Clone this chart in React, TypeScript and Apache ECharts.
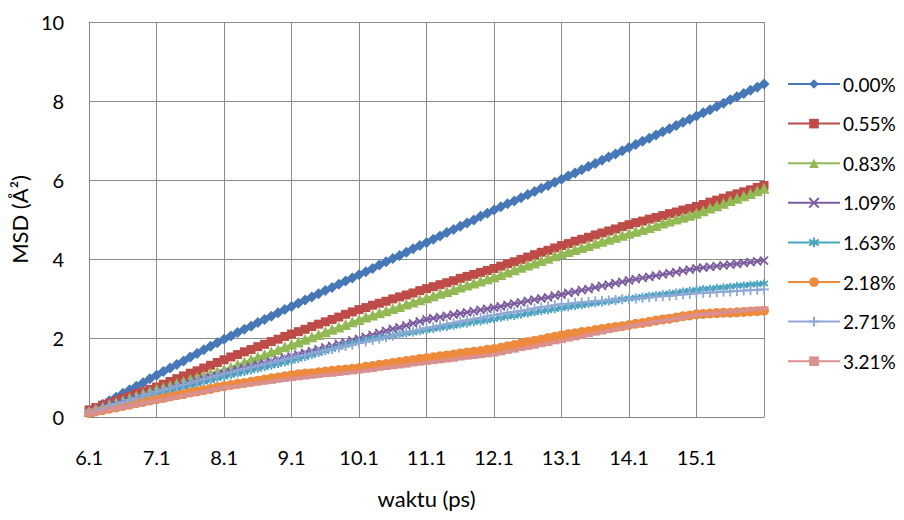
import React, { useEffect, useRef } from "react";
import * as echarts from "echarts";

// waktu (ps) categories: 6.1 ... 16.1 in steps of 0.1
const times: string[] = Array.from({ length: 101 }, (_, i) => (6.1 + i * 0.1).toFixed(1));

const s000 = [
  0.13, 0.22, 0.32, 0.41, 0.50, 0.60, 0.69, 0.78, 0.87, 0.97,
  1.06, 1.15, 1.24, 1.33, 1.42, 1.52, 1.61, 1.70, 1.79, 1.88,
  1.97, 2.05, 2.14, 2.22, 2.30, 2.39, 2.47, 2.55, 2.64, 2.72,
  2.80, 2.88, 2.96, 3.04, 3.12, 3.20, 3.28, 3.36, 3.44, 3.52,
  3.60, 3.68, 3.76, 3.85, 3.93, 4.01, 4.09, 4.17, 4.26, 4.34,
  4.42, 4.50, 4.58, 4.67, 4.75, 4.83, 4.91, 4.99, 5.08, 5.16,
  5.24, 5.32, 5.40, 5.47, 5.55, 5.63, 5.71, 5.79, 5.86, 5.94,
  6.02, 6.10, 6.18, 6.26, 6.34, 6.42, 6.50, 6.58, 6.66, 6.74,
  6.82, 6.90, 6.98, 7.06, 7.14, 7.22, 7.30, 7.38, 7.46, 7.54,
  7.62, 7.70, 7.78, 7.86, 7.94, 8.03, 8.11, 8.19, 8.27, 8.35,
  8.43,
];
const s055 = [
  0.18, 0.24, 0.30, 0.35, 0.41, 0.47, 0.53, 0.59, 0.64, 0.70,
  0.76, 0.83, 0.90, 0.97, 1.04, 1.11, 1.17, 1.24, 1.31, 1.38,
  1.45, 1.52, 1.58, 1.65, 1.71, 1.78, 1.84, 1.91, 1.97, 2.04,
  2.10, 2.16, 2.22, 2.29, 2.35, 2.41, 2.47, 2.53, 2.60, 2.66,
  2.72, 2.77, 2.83, 2.88, 2.93, 2.99, 3.04, 3.09, 3.14, 3.20,
  3.25, 3.30, 3.35, 3.40, 3.45, 3.51, 3.56, 3.61, 3.66, 3.71,
  3.76, 3.82, 3.88, 3.93, 3.99, 4.05, 4.11, 4.17, 4.22, 4.28,
  4.34, 4.39, 4.45, 4.50, 4.55, 4.61, 4.66, 4.71, 4.76, 4.82,
  4.87, 4.92, 4.96, 5.01, 5.05, 5.10, 5.15, 5.19, 5.24, 5.28,
  5.33, 5.38, 5.44, 5.49, 5.54, 5.60, 5.65, 5.70, 5.75, 5.81,
  5.86,
];
const s083 = [
  0.14, 0.20, 0.25, 0.31, 0.36, 0.42, 0.48, 0.53, 0.59, 0.64,
  0.70, 0.75, 0.80, 0.85, 0.90, 0.95, 1.00, 1.05, 1.10, 1.15,
  1.20, 1.26, 1.33, 1.39, 1.46, 1.52, 1.58, 1.65, 1.71, 1.78,
  1.84, 1.90, 1.97, 2.03, 2.09, 2.16, 2.22, 2.28, 2.34, 2.41,
  2.47, 2.53, 2.58, 2.64, 2.69, 2.75, 2.80, 2.86, 2.91, 2.97,
  3.02, 3.07, 3.13, 3.18, 3.23, 3.29, 3.34, 3.39, 3.44, 3.50,
  3.55, 3.61, 3.67, 3.73, 3.79, 3.85, 3.90, 3.96, 4.02, 4.08,
  4.14, 4.19, 4.24, 4.29, 4.34, 4.40, 4.45, 4.50, 4.55, 4.60,
  4.65, 4.70, 4.75, 4.80, 4.85, 4.91, 4.96, 5.01, 5.06, 5.11,
  5.16, 5.22, 5.29, 5.35, 5.41, 5.48, 5.54, 5.60, 5.66, 5.73,
  5.79,
];
const s109 = [
  0.12, 0.17, 0.22, 0.26, 0.31, 0.36, 0.41, 0.46, 0.50, 0.55,
  0.60, 0.65, 0.70, 0.75, 0.80, 0.85, 0.90, 0.95, 1.00, 1.05,
  1.10, 1.14, 1.19, 1.23, 1.27, 1.32, 1.36, 1.40, 1.44, 1.49,
  1.53, 1.58, 1.62, 1.67, 1.71, 1.76, 1.80, 1.85, 1.89, 1.94,
  1.98, 2.03, 2.08, 2.13, 2.18, 2.23, 2.27, 2.32, 2.37, 2.42,
  2.47, 2.50, 2.53, 2.56, 2.59, 2.62, 2.65, 2.68, 2.71, 2.74,
  2.77, 2.80, 2.84, 2.87, 2.90, 2.94, 2.97, 3.00, 3.03, 3.07,
  3.10, 3.14, 3.17, 3.21, 3.24, 3.28, 3.32, 3.35, 3.39, 3.42,
  3.46, 3.49, 3.52, 3.55, 3.58, 3.61, 3.64, 3.67, 3.70, 3.73,
  3.76, 3.78, 3.80, 3.82, 3.84, 3.86, 3.88, 3.90, 3.92, 3.94,
  3.96,
];
const s163 = [
  0.10, 0.15, 0.20, 0.24, 0.29, 0.34, 0.39, 0.44, 0.48, 0.53,
  0.58, 0.62, 0.67, 0.71, 0.76, 0.80, 0.84, 0.89, 0.93, 0.98,
  1.02, 1.06, 1.10, 1.14, 1.18, 1.22, 1.26, 1.30, 1.34, 1.38,
  1.42, 1.47, 1.52, 1.57, 1.62, 1.67, 1.72, 1.77, 1.82, 1.87,
  1.92, 1.95, 1.98, 2.00, 2.03, 2.06, 2.09, 2.12, 2.14, 2.17,
  2.20, 2.23, 2.26, 2.28, 2.31, 2.34, 2.37, 2.40, 2.42, 2.45,
  2.48, 2.51, 2.54, 2.56, 2.59, 2.62, 2.65, 2.68, 2.70, 2.73,
  2.76, 2.78, 2.81, 2.83, 2.86, 2.88, 2.90, 2.93, 2.95, 2.98,
  3.00, 3.02, 3.04, 3.07, 3.09, 3.11, 3.13, 3.15, 3.18, 3.20,
  3.22, 3.24, 3.25, 3.27, 3.28, 3.30, 3.32, 3.33, 3.35, 3.36,
  3.38,
];
const s218 = [
  0.10, 0.14, 0.17, 0.21, 0.24, 0.28, 0.31, 0.35, 0.38, 0.42,
  0.45, 0.48, 0.52, 0.55, 0.58, 0.62, 0.65, 0.68, 0.71, 0.75,
  0.78, 0.81, 0.84, 0.86, 0.89, 0.92, 0.95, 0.98, 1.00, 1.03,
  1.06, 1.08, 1.10, 1.11, 1.13, 1.15, 1.17, 1.19, 1.20, 1.22,
  1.24, 1.27, 1.29, 1.32, 1.34, 1.37, 1.39, 1.42, 1.44, 1.47,
  1.49, 1.51, 1.54, 1.56, 1.58, 1.61, 1.63, 1.65, 1.67, 1.70,
  1.72, 1.75, 1.79, 1.82, 1.86, 1.90, 1.93, 1.96, 2.00, 2.03,
  2.07, 2.10, 2.12, 2.15, 2.17, 2.20, 2.23, 2.25, 2.28, 2.30,
  2.33, 2.36, 2.38, 2.41, 2.44, 2.47, 2.49, 2.52, 2.55, 2.57,
  2.60, 2.61, 2.62, 2.63, 2.64, 2.64, 2.65, 2.66, 2.67, 2.68,
  2.69,
];
const s271 = [
  0.12, 0.17, 0.22, 0.28, 0.33, 0.38, 0.43, 0.48, 0.54, 0.59,
  0.64, 0.69, 0.73, 0.78, 0.82, 0.87, 0.92, 0.96, 1.01, 1.05,
  1.10, 1.14, 1.18, 1.22, 1.26, 1.30, 1.34, 1.38, 1.42, 1.46,
  1.50, 1.54, 1.57, 1.61, 1.65, 1.69, 1.72, 1.76, 1.80, 1.83,
  1.87, 1.91, 1.95, 1.98, 2.02, 2.06, 2.10, 2.14, 2.17, 2.21,
  2.25, 2.28, 2.32, 2.35, 2.38, 2.42, 2.45, 2.48, 2.51, 2.55,
  2.58, 2.61, 2.64, 2.66, 2.69, 2.72, 2.75, 2.78, 2.80, 2.83,
  2.86, 2.87, 2.89, 2.90, 2.91, 2.93, 2.94, 2.95, 2.96, 2.98,
  2.99, 3.00, 3.02, 3.03, 3.05, 3.06, 3.07, 3.09, 3.10, 3.12,
  3.13, 3.14, 3.15, 3.16, 3.17, 3.18, 3.19, 3.20, 3.21, 3.22,
  3.23,
];
const s321 = [
  0.08, 0.11, 0.14, 0.18, 0.21, 0.24, 0.27, 0.30, 0.34, 0.37,
  0.40, 0.43, 0.47, 0.50, 0.54, 0.57, 0.60, 0.64, 0.67, 0.71,
  0.74, 0.76, 0.78, 0.81, 0.83, 0.85, 0.87, 0.89, 0.92, 0.94,
  0.96, 0.98, 1.00, 1.02, 1.04, 1.06, 1.07, 1.09, 1.11, 1.13,
  1.15, 1.17, 1.19, 1.22, 1.24, 1.26, 1.28, 1.30, 1.33, 1.35,
  1.37, 1.39, 1.41, 1.43, 1.45, 1.48, 1.50, 1.52, 1.54, 1.56,
  1.58, 1.61, 1.65, 1.68, 1.72, 1.75, 1.78, 1.82, 1.85, 1.89,
  1.92, 1.96, 1.99, 2.03, 2.07, 2.11, 2.14, 2.18, 2.22, 2.25,
  2.29, 2.32, 2.35, 2.38, 2.41, 2.44, 2.46, 2.49, 2.52, 2.55,
  2.58, 2.60, 2.61, 2.63, 2.65, 2.67, 2.68, 2.70, 2.72, 2.73,
  2.75,
];

const seriesNames = ["0.00%", "0.55%", "0.83%", "1.09%", "1.63%", "2.18%", "2.71%", "3.21%"];
const seriesData = [s000, s055, s083, s109, s163, s218, s271, s321];
const seriesColors = ["#4677B6", "#BE4B48", "#93B954", "#7B5C9E", "#47A5BE", "#EE8A3C", "#8FA8D6", "#D9908E"];

const yTicks = [0, 2, 4, 6, 8, 10];

const X_PATH = "path://M0,0L10,10M10,0L0,10";
const STAR_PATH = "path://M5,0L5,10M0,2L10,8M0,8L10,2";
const PLUS_PATH = "path://M5,0L5,10M0,5L10,5";
const DASH_PATH = "path://M0,0L10,0L10,4L0,4Z";

const symbols = [
  { symbol: "diamond", size: 11, stroke: false },
  { symbol: "rect", size: 9, stroke: false },
  { symbol: "triangle", size: 11, stroke: false },
  { symbol: X_PATH, size: 8, stroke: true },
  { symbol: STAR_PATH, size: 8, stroke: true },
  { symbol: "circle", size: 10, stroke: false },
  { symbol: PLUS_PATH, size: 10, stroke: true },
  { symbol: DASH_PATH, size: [9, 4], stroke: false },
];

const FONT = "Lato, 'Open Sans', sans-serif";

export default function App() {
  const ref = useRef<HTMLDivElement>(null);
  useEffect(() => {
    if (!ref.current) return;
    const chart = echarts.init(ref.current, null, { renderer: "svg" });
    const series = seriesNames.map((name, i) => ({
      name,
      type: "line",
      data: seriesData[i],
      symbol: symbols[i].symbol,
      symbolSize: symbols[i].size,
      showAllSymbol: true,
      lineStyle: { color: seriesColors[i], width: 2 },
      itemStyle: symbols[i].stroke
        ? { color: seriesColors[i], borderColor: seriesColors[i], borderWidth: 1.8 }
        : { color: seriesColors[i], borderWidth: 0 },
      emphasis: { disabled: true },
    }));
    chart.setOption({
      animation: false,
      backgroundColor: "#ffffff",
      textStyle: { fontFamily: FONT },
      grid: { left: 88, right: 140, top: 22, bottom: 103 },
      legend: {
        orient: "vertical",
        left: 782,
        top: 69,
        itemWidth: 52,
        itemHeight: 12,
        itemGap: 19.6,
        data: seriesNames,
        textStyle: { fontSize: 19, lineHeight: 20, color: "#000", fontFamily: FONT, padding: [0, 0, 0, -2] },
      },
      xAxis: {
        type: "category",
        data: times,
        boundaryGap: false,
        name: "waktu (ps)",
        nameLocation: "middle",
        nameGap: 70,
        nameTextStyle: { fontSize: 22, color: "#000", fontFamily: FONT },
        axisLine: { lineStyle: { color: "#868686", width: 1 } },
        axisTick: { show: false },
        axisLabel: {
          interval: (index: number) => index % 10 === 0 && index < 100,
          fontSize: 20,
          color: "#000",
          margin: 30,
          fontFamily: FONT,
        },
        splitLine: {
          show: true,
          interval: (index: number) => index % 10 === 0,
          lineStyle: { color: "#8C8C8C", width: 1 },
        },
      },
      yAxis: {
        type: "value",
        min: yTicks[0],
        max: yTicks[yTicks.length - 1],
        interval: 2,
        name: "MSD (Å²)",
        nameLocation: "middle",
        nameGap: 48,
        nameTextStyle: { fontSize: 22, color: "#000", fontFamily: FONT },
        axisLine: { show: true, lineStyle: { color: "#868686", width: 1 } },
        axisTick: { show: false },
        axisLabel: { fontSize: 20, color: "#000", margin: 25, fontFamily: FONT },
        splitLine: { show: true, lineStyle: { color: "#8C8C8C", width: 1 } },
      },
      series,
    });
    return () => chart.dispose();
  }, []);
  return <div ref={ref} style={{ width: 904, height: 520, margin: -8 }} />;
}
